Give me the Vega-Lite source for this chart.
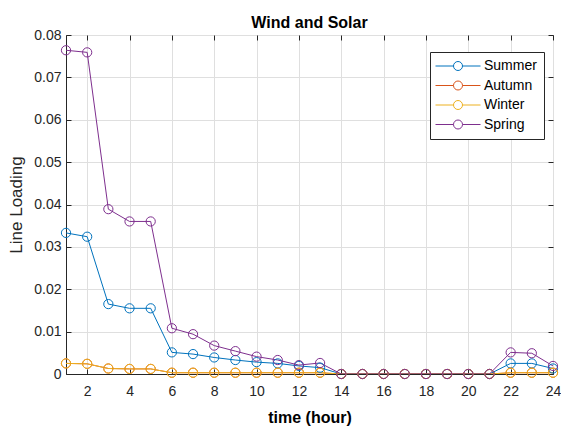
{
  "$schema": "https://vega.github.io/schema/vega-lite/v6.json",
  "width": 487,
  "height": 339,
  "autosize": {"type": "none"},
  "padding": {"left": 66, "top": 35, "right": 8, "bottom": 54},
  "background": "white",
  "title": {"text": "Wind and Solar", "font": "Liberation Sans", "fontSize": 16, "fontWeight": "bold", "color": "#000000", "offset": -3},
  "config": {
    "font": "Liberation Sans",
    "view": {"stroke": "#262626", "strokeWidth": 1},
    "axis": {
      "domainColor": "#262626",
      "tickColor": "#262626",
      "labelColor": "#262626",
      "labelFont": "Liberation Sans",
      "labelFontSize": 14,
      "gridColor": "#dfdfdf",
      "gridWidth": 1,
      "tickSize": -5,
      "titleColor": "#262626",
      "titleFont": "Liberation Sans"
    },
    "legend": {
      "title": null,
      "orient": "none",
      "legendX": 364,
      "legendY": 17,
      "direction": "vertical",
      "symbolType": "M-5,0L-1,0M1,0L5,0M-1,0A1,1,0,1,1,1,0A1,1,0,1,1,-1,0",
      "symbolSize": 81,
      "symbolStrokeWidth": 1,
      "symbolFillColor": "transparent",
      "symbolOffset": 14,
      "labelFontSize": 14,
      "labelColor": "#000000",
      "labelFont": "Liberation Sans",
      "labelOffset": 19,
      "rowPadding": 5.5,
      "padding": 7,
      "fillColor": "white",
      "strokeColor": "#262626"
    }
  },
  "data": {
    "values": [
      {"hour": 1, "season": "Summer", "loading": 0.0333},
      {"hour": 2, "season": "Summer", "loading": 0.0324},
      {"hour": 3, "season": "Summer", "loading": 0.0165},
      {"hour": 4, "season": "Summer", "loading": 0.0155},
      {"hour": 5, "season": "Summer", "loading": 0.0155},
      {"hour": 6, "season": "Summer", "loading": 0.0051},
      {"hour": 7, "season": "Summer", "loading": 0.0047},
      {"hour": 8, "season": "Summer", "loading": 0.0039},
      {"hour": 9, "season": "Summer", "loading": 0.0033},
      {"hour": 10, "season": "Summer", "loading": 0.0028},
      {"hour": 11, "season": "Summer", "loading": 0.0025},
      {"hour": 12, "season": "Summer", "loading": 0.0019},
      {"hour": 13, "season": "Summer", "loading": 0.0015},
      {"hour": 14, "season": "Summer", "loading": 0},
      {"hour": 15, "season": "Summer", "loading": 0},
      {"hour": 16, "season": "Summer", "loading": 0},
      {"hour": 17, "season": "Summer", "loading": 0},
      {"hour": 18, "season": "Summer", "loading": 0},
      {"hour": 19, "season": "Summer", "loading": 0},
      {"hour": 20, "season": "Summer", "loading": 0},
      {"hour": 21, "season": "Summer", "loading": 0},
      {"hour": 22, "season": "Summer", "loading": 0.0025},
      {"hour": 23, "season": "Summer", "loading": 0.0025},
      {"hour": 24, "season": "Summer", "loading": 0.0013},
      {"hour": 1, "season": "Autumn", "loading": 0.0025},
      {"hour": 2, "season": "Autumn", "loading": 0.0024},
      {"hour": 3, "season": "Autumn", "loading": 0.0013},
      {"hour": 4, "season": "Autumn", "loading": 0.0012},
      {"hour": 5, "season": "Autumn", "loading": 0.0012},
      {"hour": 6, "season": "Autumn", "loading": 0.0003},
      {"hour": 7, "season": "Autumn", "loading": 0.0003},
      {"hour": 8, "season": "Autumn", "loading": 0.0003},
      {"hour": 9, "season": "Autumn", "loading": 0.0003},
      {"hour": 10, "season": "Autumn", "loading": 0.0003},
      {"hour": 11, "season": "Autumn", "loading": 0.0003},
      {"hour": 12, "season": "Autumn", "loading": 0.0003},
      {"hour": 13, "season": "Autumn", "loading": 0.0003},
      {"hour": 14, "season": "Autumn", "loading": 0},
      {"hour": 15, "season": "Autumn", "loading": 0},
      {"hour": 16, "season": "Autumn", "loading": 0},
      {"hour": 17, "season": "Autumn", "loading": 0},
      {"hour": 18, "season": "Autumn", "loading": 0},
      {"hour": 19, "season": "Autumn", "loading": 0},
      {"hour": 20, "season": "Autumn", "loading": 0},
      {"hour": 21, "season": "Autumn", "loading": 0},
      {"hour": 22, "season": "Autumn", "loading": 0.0003},
      {"hour": 23, "season": "Autumn", "loading": 0.0003},
      {"hour": 24, "season": "Autumn", "loading": 0.0003},
      {"hour": 1, "season": "Winter", "loading": 0.0025},
      {"hour": 2, "season": "Winter", "loading": 0.0024},
      {"hour": 3, "season": "Winter", "loading": 0.0013},
      {"hour": 4, "season": "Winter", "loading": 0.0012},
      {"hour": 5, "season": "Winter", "loading": 0.0012},
      {"hour": 6, "season": "Winter", "loading": 0.0003},
      {"hour": 7, "season": "Winter", "loading": 0.0003},
      {"hour": 8, "season": "Winter", "loading": 0.0003},
      {"hour": 9, "season": "Winter", "loading": 0.0003},
      {"hour": 10, "season": "Winter", "loading": 0.0003},
      {"hour": 11, "season": "Winter", "loading": 0.0003},
      {"hour": 12, "season": "Winter", "loading": 0.0003},
      {"hour": 13, "season": "Winter", "loading": 0.0003},
      {"hour": 14, "season": "Winter", "loading": 0},
      {"hour": 15, "season": "Winter", "loading": 0},
      {"hour": 16, "season": "Winter", "loading": 0},
      {"hour": 17, "season": "Winter", "loading": 0},
      {"hour": 18, "season": "Winter", "loading": 0},
      {"hour": 19, "season": "Winter", "loading": 0},
      {"hour": 20, "season": "Winter", "loading": 0},
      {"hour": 21, "season": "Winter", "loading": 0},
      {"hour": 22, "season": "Winter", "loading": 0.0003},
      {"hour": 23, "season": "Winter", "loading": 0.0003},
      {"hour": 24, "season": "Winter", "loading": 0.0003},
      {"hour": 1, "season": "Spring", "loading": 0.0764},
      {"hour": 2, "season": "Spring", "loading": 0.0759},
      {"hour": 3, "season": "Spring", "loading": 0.0389},
      {"hour": 4, "season": "Spring", "loading": 0.036},
      {"hour": 5, "season": "Spring", "loading": 0.036},
      {"hour": 6, "season": "Spring", "loading": 0.0108},
      {"hour": 7, "season": "Spring", "loading": 0.0094},
      {"hour": 8, "season": "Spring", "loading": 0.0067},
      {"hour": 9, "season": "Spring", "loading": 0.0054},
      {"hour": 10, "season": "Spring", "loading": 0.0041},
      {"hour": 11, "season": "Spring", "loading": 0.0033},
      {"hour": 12, "season": "Spring", "loading": 0.0021},
      {"hour": 13, "season": "Spring", "loading": 0.0026},
      {"hour": 14, "season": "Spring", "loading": 0},
      {"hour": 15, "season": "Spring", "loading": 0},
      {"hour": 16, "season": "Spring", "loading": 0},
      {"hour": 17, "season": "Spring", "loading": 0},
      {"hour": 18, "season": "Spring", "loading": 0},
      {"hour": 19, "season": "Spring", "loading": 0},
      {"hour": 20, "season": "Spring", "loading": 0},
      {"hour": 21, "season": "Spring", "loading": 0},
      {"hour": 22, "season": "Spring", "loading": 0.0051},
      {"hour": 23, "season": "Spring", "loading": 0.0049},
      {"hour": 24, "season": "Spring", "loading": 0.0019}
    ]
  },
  "layer": [
    {
      "mark": {"type": "line", "strokeWidth": 1, "clip": true},
      "encoding": {
        "x": {"field": "hour", "type": "quantitative", "scale": {"domain": [1, 24], "nice": false, "zero": false}, "axis": {"orient": "bottom", "values": [2, 4, 6, 8, 10, 12, 14, 16, 18, 20, 22, 24], "title": "time (hour)", "titleFontSize": 16, "titleFontWeight": "bold", "titleColor": "#000000", "labelPadding": 15, "titlePadding": 11, "labelFlush": false}},
        "y": {"field": "loading", "type": "quantitative", "scale": {"domain": [0, 0.08], "nice": false}, "axis": {"orient": "left", "values": [0, 0.01, 0.02, 0.03, 0.04, 0.05, 0.06, 0.07, 0.08], "labelExpr": "datum.value == 0 ? '0' : format(datum.value, '.2f')", "title": "Line Loading", "titleFontSize": 17, "titleFontWeight": "normal", "titlePadding": 8, "labelPadding": 10, "labelFlush": false}},
        "color": {
          "field": "season",
          "type": "nominal",
          "scale": {"domain": ["Summer", "Autumn", "Winter", "Spring"], "range": ["#0072BD", "#D95319", "#EDB120", "#7E2F8E"]}
        }
      }
    },
    {
      "mark": {"type": "point", "shape": "circle", "filled": false, "size": 85, "strokeWidth": 1, "opacity": 1},
      "encoding": {
        "x": {"field": "hour", "type": "quantitative", "axis": {"orient": "top", "values": [2, 4, 6, 8, 10, 12, 14, 16, 18, 20, 22, 24], "labels": false, "title": null, "grid": false, "domain": false}},
        "y": {"field": "loading", "type": "quantitative", "axis": {"orient": "right", "values": [0, 0.01, 0.02, 0.03, 0.04, 0.05, 0.06, 0.07, 0.08], "labels": false, "title": null, "grid": false, "domain": false}},
        "color": {
          "field": "season",
          "type": "nominal",
          "scale": {"domain": ["Summer", "Autumn", "Winter", "Spring"], "range": ["#0072BD", "#D95319", "#EDB120", "#7E2F8E"]}
        }
      }
    }
  ],
  "resolve": {"axis": {"x": "independent", "y": "independent"}}
}
